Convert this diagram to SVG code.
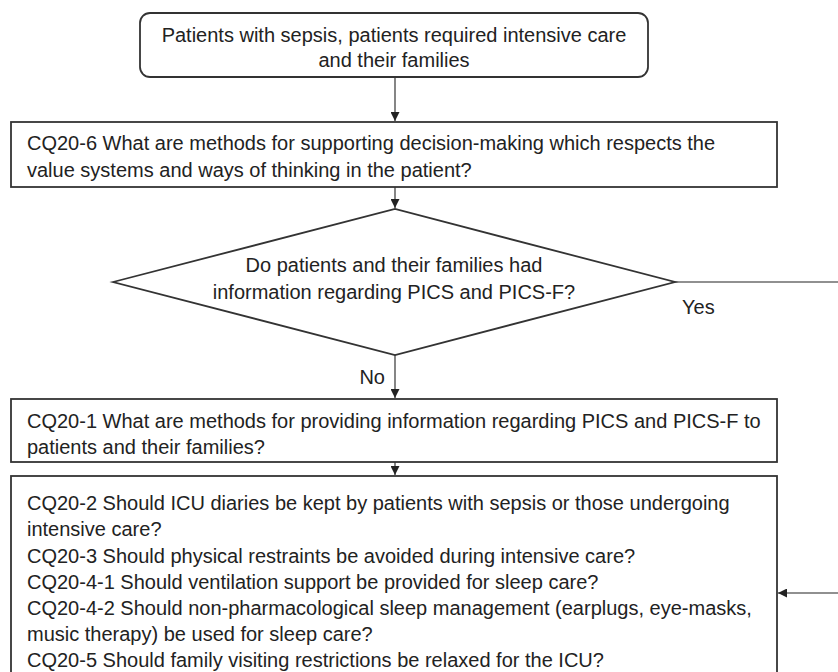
<svg xmlns="http://www.w3.org/2000/svg" width="838" height="672" viewBox="0 0 838 672">
<style>
  .box { fill: #fff; stroke: #333; stroke-width: 1.8; }
  .conn { stroke: #222; stroke-width: 1.1; fill: none; }
  text { font-family: "Liberation Sans", Arial, sans-serif; font-size: 20px; fill: #222; }
  .c { text-anchor: middle; }
  .e { text-anchor: end; }
</style>
<defs>
  <marker id="arr" viewBox="0 0 10 10" refX="10" refY="5" markerWidth="9" markerHeight="9" markerUnits="userSpaceOnUse" orient="auto">
    <path d="M0,0 L10,5 L0,10 Z" fill="#222"/>
  </marker>
</defs>
<rect width="838" height="672" fill="#fff"/>
<g id="connectors">
  <line class="conn" x1="395" y1="77" x2="395" y2="121" marker-end="url(#arr)"/>
  <line class="conn" x1="395" y1="187" x2="395" y2="208" marker-end="url(#arr)"/>
  <line class="conn" x1="395" y1="355" x2="395" y2="398" marker-end="url(#arr)"/>
  <line class="conn" x1="395" y1="462" x2="395" y2="475" marker-end="url(#arr)"/>
  <polyline class="conn" points="675,282 838,282"/>
  <line class="conn" x1="838" y1="593" x2="778" y2="593" marker-end="url(#arr)"/>
  <text x="682" y="314">Yes</text>
  <text class="e" x="385" y="384">No</text>
</g>
<g id="start">
  <rect class="box" x="140" y="13" width="508" height="64" rx="10" ry="10"/>
  <text class="c" x="394" y="42">Patients with sepsis, patients required intensive care</text>
  <text class="c" x="394" y="67">and their families</text>
</g>
<g id="cq20-6">
  <rect class="box" x="11" y="122" width="766" height="65"/>
  <text x="27" y="150">CQ20-6 What are methods for supporting decision-making which respects the</text>
  <text x="27" y="177">value systems and ways of thinking in the patient?</text>
</g>
<g id="decision">
  <polygon class="box" points="113,282 395,209 675,282 395,355"/>
  <text class="c" x="394" y="272">Do patients and their families had</text>
  <text class="c" x="394" y="299">information regarding PICS and PICS-F?</text>
</g>
<g id="cq20-1">
  <rect class="box" x="11" y="399" width="766" height="63"/>
  <text x="27" y="428">CQ20-1 What are methods for providing information regarding PICS and PICS-F to</text>
  <text x="27" y="454">patients and their families?</text>
</g>
<g id="cq20-others">
  <rect class="box" x="11" y="476" width="766" height="230"/>
  <text x="27" y="510">CQ20-2 Should ICU diaries be kept by patients with sepsis or those undergoing</text>
  <text x="27" y="536">intensive care?</text>
  <text x="27" y="563">CQ20-3 Should physical restraints be avoided during intensive care?</text>
  <text x="27" y="589">CQ20-4-1 Should ventilation support be provided for sleep care?</text>
  <text x="27" y="615">CQ20-4-2 Should non-pharmacological sleep management (earplugs, eye-masks,</text>
  <text x="27" y="641">music therapy) be used for sleep care?</text>
  <text x="27" y="667">CQ20-5 Should family visiting restrictions be relaxed for the ICU?</text>
</g>
</svg>
